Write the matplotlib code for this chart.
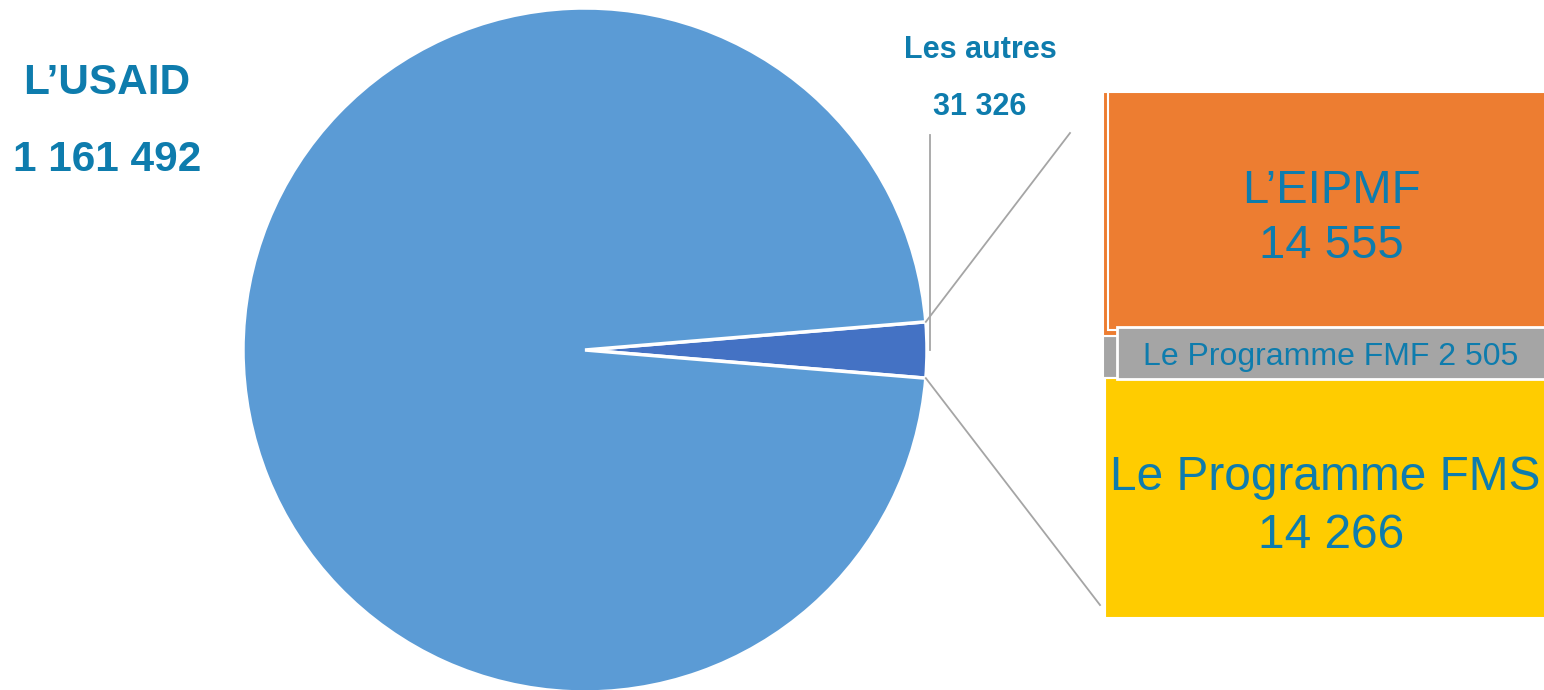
import matplotlib
matplotlib.use("Agg")
import matplotlib.pyplot as plt
from matplotlib.patches import Rectangle
import numpy as np

# ---- data ----
pie_labels = ["Les autres", "L\u2019USAID"]
pie_values = [31326, 1161492]
pie_value_text = ["31 326", "1 161 492"]
pie_colors = ["#4472C4", "#5B9BD5"]

bar_labels = ["L\u2019EIPMF", "Le Programme FMF", "Le Programme FMS"]
bar_values = [14555, 2505, 14266]
bar_value_text = ["14 555", "2 505", "14 266"]
bar_colors = ["#ED7D31", "#A5A5A5", "#FFCC00"]

TXT = "#0E7CAD"
FONT = "Liberation Sans"
W, H = 1544, 690

fig = plt.figure(figsize=(W / 100, H / 100), dpi=100)
ax = fig.add_axes([0, 0, 1, 1])

# ---- pie ----
cx, cy, r = 585, H - 350, 342
frac = pie_values[0] / sum(pie_values)
half = 360 * frac / 2
ax.pie(pie_values, colors=pie_colors, startangle=-half, counterclock=True,
       center=(cx, cy), radius=r, frame=True,
       wedgeprops=dict(edgecolor="white", linewidth=2.5))

# ---- stacked bar (top to bottom: EIPMF, FMF, FMS) ----
bar_top, bar_bot = H - 92, H - 618
scale = (bar_top - bar_bot) / sum(bar_values)
bx0, bx1 = 1103, 1600
bottom = bar_bot
segs = {}
for lab, v, c in reversed(list(zip(bar_labels, bar_values, bar_colors))):
    h = v * scale
    ax.bar(bx0, h, width=bx1 - bx0, bottom=bottom, align="edge", color=c,
           edgecolor="white", linewidth=1.5)
    segs[lab] = (bottom, bottom + h)
    bottom += h

# label boxes overlaid on segments
lo, hi = segs[bar_labels[0]]
ax.add_patch(Rectangle((1108, lo + 6), bx1 - 1108, hi - lo - 6,
                       facecolor=bar_colors[0], edgecolor="white", lw=1.5))
lo, hi = segs[bar_labels[2]]
ax.add_patch(Rectangle((1105, lo), bx1 - 1105, hi - lo,
                       facecolor=bar_colors[2], edgecolor="white", lw=1.5))
lo, hi = segs[bar_labels[1]]
ax.add_patch(Rectangle((1117, lo - 1), bx1 - 1117, hi - lo + 10,
                       facecolor=bar_colors[1], edgecolor="white", lw=2))

# ---- connector lines ----
ang = np.deg2rad(half)
ex = cx + r * np.cos(ang)
ax.plot([ex, 1070], [cy + r * np.sin(ang), H - 133], color="#A5A5A5", lw=1.3)
ax.plot([ex, 1100], [cy - r * np.sin(ang), H - 605], color="#A5A5A5", lw=1.3)
ax.plot([930, 930], [H - 135, H - 350], color="#A5A5A5", lw=1.3)

# ---- labels ----
ax.text(107, H - 83, pie_labels[1], ha="center", va="center", fontsize=30.5,
        fontweight="bold", color=TXT, family=FONT)
ax.text(107, H - 160, pie_value_text[1], ha="center", va="center", fontsize=30.5,
        fontweight="bold", color=TXT, family=FONT)
ax.text(980, H - 50, pie_labels[0], ha="center", va="center", fontsize=22,
        fontweight="bold", color=TXT, family=FONT)
ax.text(980, H - 107, pie_value_text[0], ha="center", va="center", fontsize=22,
        fontweight="bold", color=TXT, family=FONT)

ax.text(1331, H - 191, bar_labels[0], ha="center", va="center", fontsize=34,
        color=TXT, family=FONT)
ax.text(1331, H - 246, bar_value_text[0], ha="center", va="center", fontsize=34,
        color=TXT, family=FONT)
ax.text(1331, H - 357, bar_labels[1] + " " + bar_value_text[1], ha="center",
        va="center", fontsize=23, color=TXT, family=FONT)
ax.text(1325, H - 477, bar_labels[2], ha="center", va="center", fontsize=34.5,
        color=TXT, family=FONT)
ax.text(1331, H - 535, bar_value_text[2], ha="center", va="center", fontsize=34.5,
        color=TXT, family=FONT)

ax.set_xlim(0, W)
ax.set_ylim(0, H)
ax.set_aspect("auto")
ax.axis("off")

fig.savefig("out.png", dpi=100, facecolor="white")
